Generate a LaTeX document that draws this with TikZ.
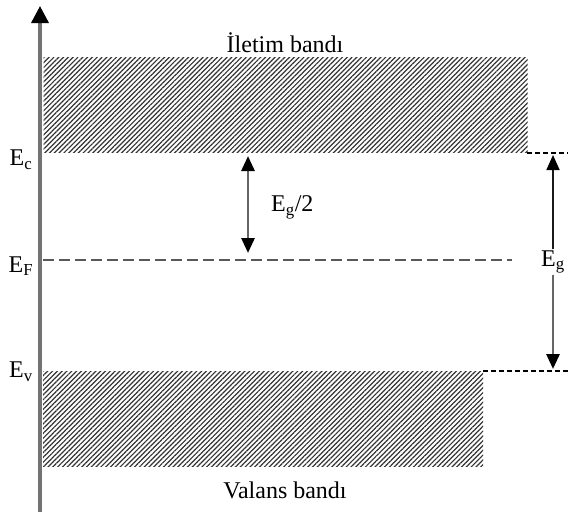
\documentclass[tikz,border=0pt]{standalone}
\usepackage{fontspec}
\setmainfont{Liberation Serif}
\usetikzlibrary{patterns.meta,arrows.meta}
\tikzset{
  band/.style={draw=none, pattern={Lines[angle=45,distance=3.4pt,line width=1.2pt]}, pattern color=black!80, inner sep=0pt, anchor=north west},
  lbl/.style={font=\fontsize{24}{27}\selectfont, inner sep=1pt},
  fermi/.style={draw=black!65, line width=1.8pt, dash pattern=on 11pt off 5pt},
  edge/.style={draw=black, line width=1.3pt, dash pattern=on 5pt off 3pt},
  hd/.tip={Triangle[width=13pt,length=15pt,fill=black,color=black]},
}
\begin{document}
\begin{tikzpicture}[x=1pt,y=-1pt]
\useasboundingbox (0,0) rectangle (569,515);
% axis
\coordinate (axb) at (40,512);
\coordinate (axt) at (40,6);
\draw[black!55, line width=3.4pt, -{Triangle[width=17pt,length=17pt,fill=black,color=black]}] (axb) -- (axt);
% bands
\node[band, minimum width=484pt, minimum height=95pt] (cb) at (43,57) {};
\node[band, minimum width=440pt, minimum height=95pt] (vb) at (43,371) {};
\node[lbl] (cbl) at (285,43) {İletim bandı};
\node[lbl] (vbl) at (285,490) {Valans bandı};
% level labels
\node[lbl] (ec) at (21,160) {E\textsubscript{c}};
\node[lbl] (ef) at (21,266) {E\textsubscript{F}};
\node[lbl] (ev) at (21,372) {E\textsubscript{v}};
% Fermi level
\coordinate (f1) at (43,260);
\coordinate (f2) at (512,260);
\draw[fermi] (f1) -- (f2);
% Eg/2 arrow
\coordinate (h1) at (248,156);
\coordinate (h2) at (248,253);
\draw[black!60, line width=2.8pt, hd-hd] (h1) -- (h2);
\node[lbl, anchor=west] (hl) at (270,207) {E\textsubscript{g}/2};
% band edges extension
\coordinate (c1) at (527,153);
\coordinate (c2) at (568,153);
\coordinate (v1) at (483,371);
\coordinate (v2) at (568,371);
\draw[edge] (c1) -- (c2);
\draw[edge] (v1) -- (v2);
% Eg arrow
\node[lbl] (gl) at (553,262) {E\textsubscript{g}};
\coordinate (g1) at (553,155);
\coordinate (g2) at (553,369);
\draw[black!90, line width=1.6pt, -hd] (gl.north) -- (g1);
\draw[black!60, line width=2.8pt, -hd] (gl.south) -- (g2);
\end{tikzpicture}
\end{document}
